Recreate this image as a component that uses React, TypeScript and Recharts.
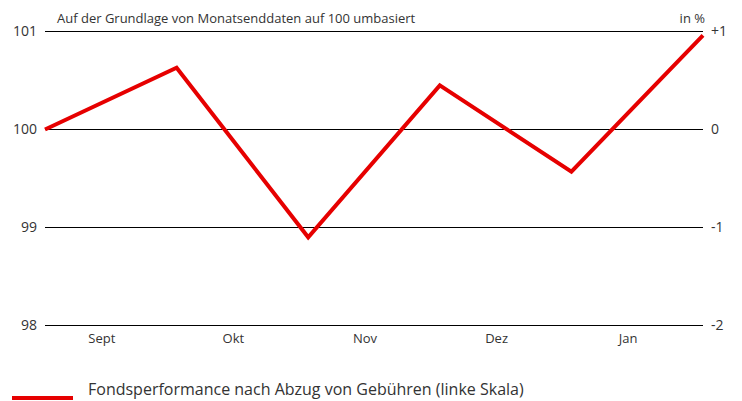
import { LineChart, Line, XAxis, YAxis, CartesianGrid } from "recharts";

// month-end points, indexed 0..5 (Aug end .. Jan end)
const pointIdx = [0, 1, 2, 3, 4, 5];
const fundValues = [100, 100.63, 98.9, 100.45, 99.57, 100.96];
const months = ["Sept", "Okt", "Nov", "Dez", "Jan"];
const monthTicks = [0.5, 1.5, 2.5, 3.5, 4.5];
const leftTicks = [98, 99, 100, 101];
const rightTicks = [-2, -1, 0, 1];

const data = pointIdx.map((i, k) => ({
  idx: i,
  fund: fundValues[k],
  pct: fundValues[k] - 100,
}));

const FONT = "'Open Sans', sans-serif";
const RED = "#e60000";
const TEXT = "#333";

export default function App() {
  return (
    <div
      style={{
        position: "fixed",
        left: 0,
        top: 0,
        width: 742,
        height: 401,
        fontFamily: FONT,
        background: "#fff",
        overflow: "hidden",
      }}
    >
      <LineChart
        width={742}
        height={401}
        data={data}
        margin={{ top: 31.5, right: 0, left: 0, bottom: 45.5 }}
      >
        <CartesianGrid stroke="#000" vertical={false} yAxisId="left" />
        <XAxis
          dataKey="idx"
          type="number"
          domain={[0, 5]}
          ticks={monthTicks}
          tickFormatter={(v) => months[Math.floor(v)]}
          height={30}
          tickLine={false}
          axisLine={{ stroke: "#000" }}
          tick={{ fontSize: 13, fill: TEXT, fontFamily: FONT, dx: -9 }}
        />
        <YAxis
          yAxisId="left"
          domain={[98, 101]}
          ticks={leftTicks}
          width={45}
          tickLine={false}
          axisLine={false}
          tick={{ fontSize: 14, fill: TEXT, fontFamily: FONT }}
        />
        <YAxis
          yAxisId="right"
          orientation="right"
          domain={[-2, 1]}
          ticks={rightTicks}
          width={39}
          tickLine={false}
          axisLine={false}
          tickFormatter={(v) => (v > 0 ? `+${v}` : `${v}`)}
          tick={{ fontSize: 14, fill: TEXT, fontFamily: FONT }}
        />
        <Line
          yAxisId="right"
          type="linear"
          dataKey="pct"
          stroke="none"
          dot={false}
          activeDot={false}
          isAnimationActive={false}
        />
        <Line
          yAxisId="left"
          type="linear"
          dataKey="fund"
          stroke={RED}
          strokeWidth={4}
          dot={false}
          isAnimationActive={false}
        />
      </LineChart>
      <div
        style={{
          position: "absolute",
          left: 57,
          top: 9,
          fontSize: 13,
          color: TEXT,
          whiteSpace: "nowrap",
        }}
      >
        Auf der Grundlage von Monatsenddaten auf 100 umbasiert
      </div>
      <div
        style={{
          position: "absolute",
          right: 37,
          top: 9,
          fontSize: 13,
          color: TEXT,
        }}
      >
        in %
      </div>
      <div
        style={{
          position: "absolute",
          left: 12,
          top: 396,
          width: 61,
          height: 4,
          background: RED,
        }}
      />
      <div
        style={{
          position: "absolute",
          left: 88,
          top: 378,
          fontSize: 16,
          lineHeight: "22px",
          color: TEXT,
          whiteSpace: "nowrap",
        }}
      >
        Fondsperformance nach Abzug von Gebühren (linke Skala)
      </div>
    </div>
  );
}
